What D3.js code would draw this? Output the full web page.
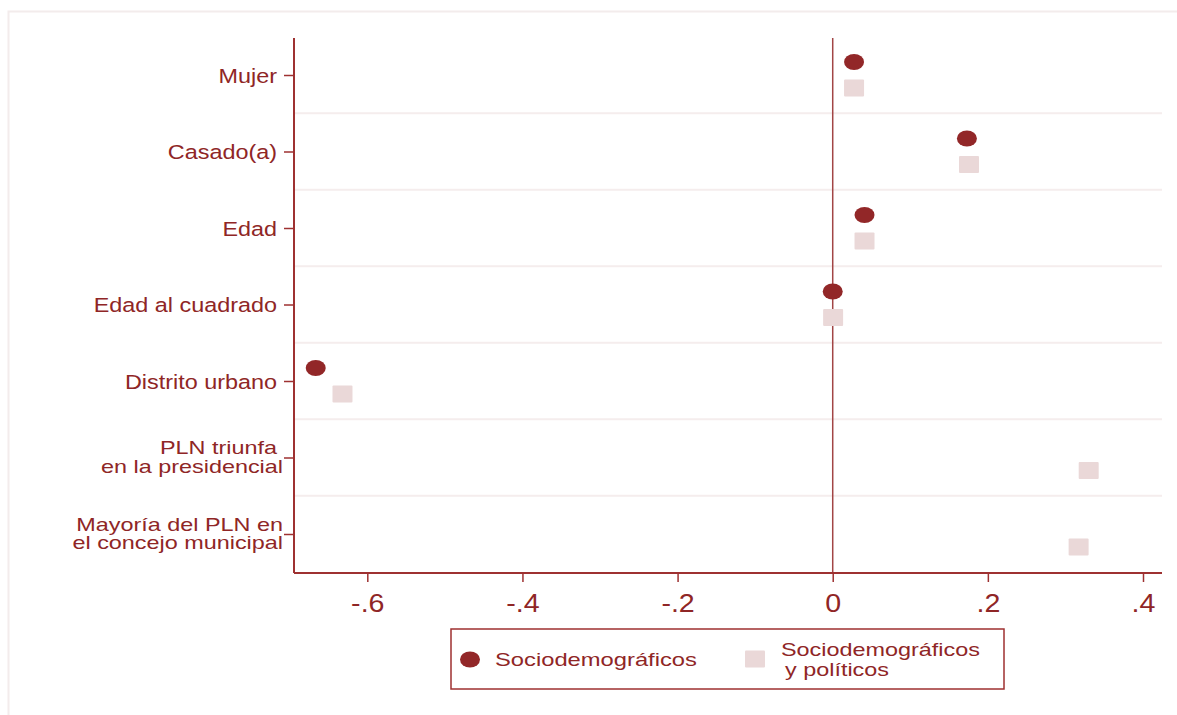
<!DOCTYPE html>
<html>
<head>
<meta charset="utf-8">
<script src="https://cdn.jsdelivr.net/npm/d3@7"></script>
<style>
  html, body { margin: 0; padding: 0; background: #ffffff; }
  svg { display: block; }
  text { font-family: "Liberation Sans", Arial, Helvetica, sans-serif; fill: #8f2626; }
</style>
</head>
<body>
<svg id="chart" width="1177" height="715"></svg>
<script>
// Coefficients by variable for the two model specifications
const categories = [
  "Mujer",
  "Casado(a)",
  "Edad",
  "Edad al cuadrado",
  "Distrito urbano",
  "PLN triunfa",
  "Mayoría del PLN en"
];
// Category labels split into lines
const categoryLines = [
  ["Mujer"],
  ["Casado(a)"],
  ["Edad"],
  ["Edad al cuadrado"],
  ["Distrito urbano"],
  ["PLN triunfa", "en la presidencial"],
  ["Mayoría del PLN en", "el concejo municipal"]
];
// Model 1: sociodemographic controls only
const socioValues = [0.0275, 0.173, 0.041, 0.0, -0.6665, null, null];
// Model 2: sociodemographic plus political controls
const socioPolValues = [0.0275, 0.1757, 0.041, 0.0005, -0.632, 0.330, 0.317];
const xTicks = [-0.6, -0.4, -0.2, 0, 0.2, 0.4];
const xTickLabels = ["-.6", "-.4", "-.2", "0", ".2", ".4"];
const legendLabels = [["Sociodemográficos"], ["Sociodemográficos", "y políticos"]];

const svg = d3.select("#chart");
const axisColor = "#9e3131";
const circleFill = "#922728";
const squareFill = "#ead8d8";
const gridColor = "#f5eded";

const plot = { left: 294, right: 1162, top: 38, bottom: 573 };

// Horizontally widened text, anchored at (x, y)
function wideText(parent, x, y, str, size, sx, anchor) {
  return parent.append("g")
    .attr("transform", `translate(${x},${y}) scale(${sx},1)`)
    .append("text")
    .attr("text-anchor", anchor)
    .style("font-size", size + "px")
    .text(str);
}

// Outer frame
svg.append("rect")
  .attr("x", 8.5).attr("y", 11.5)
  .attr("width", 1175).attr("height", 720)
  .attr("fill", "none").attr("stroke", "#f3ecec").attr("stroke-width", 2);

const x = d3.scaleLinear().domain([-0.6945, 0.4245]).range([plot.left, plot.right]);
const y = d3.scalePoint().domain(categories).range([75, 534]).padding(0);
const step = y.step();

// Horizontal separators between categories
svg.append("g").selectAll("line")
  .data(categories.slice(1))
  .join("line")
  .attr("x1", plot.left).attr("x2", plot.right)
  .attr("y1", d => y(d) - step / 2).attr("y2", d => y(d) - step / 2)
  .attr("stroke", gridColor).attr("stroke-width", 2);

// Reference line at zero
svg.append("line")
  .attr("x1", x(0)).attr("x2", x(0))
  .attr("y1", plot.top).attr("y2", plot.bottom)
  .attr("stroke", "#a24545").attr("stroke-width", 1.5);

// X axis
const xAxis = d3.axisBottom(x)
  .tickValues(xTicks)
  .tickSize(9)
  .tickSizeOuter(0)
  .tickFormat("");
const gx = svg.append("g")
  .attr("transform", `translate(0,${plot.bottom})`)
  .call(xAxis);
gx.select(".domain").attr("stroke", axisColor).attr("stroke-width", 2)
  .attr("d", `M${plot.left},0H${plot.right}`);
gx.selectAll(".tick line").attr("stroke", axisColor).attr("stroke-width", 1.5);
gx.selectAll(".tick").each(function (d, i) {
  wideText(d3.select(this), 0, 38.5, xTickLabels[i], 26, 1.1, "middle");
});

// Y axis with category ticks
const yAxis = d3.axisLeft(y).tickSize(10).tickSizeOuter(0).tickFormat("");
const gy = svg.append("g")
  .attr("transform", `translate(${plot.left},0)`)
  .call(yAxis);
gy.select(".domain").attr("stroke", axisColor).attr("stroke-width", 2)
  .attr("d", `M0,${plot.top}V${plot.bottom}`);
gy.selectAll(".tick line").attr("stroke", axisColor).attr("stroke-width", 1.5);

// Category labels
const labels = svg.append("g");
categories.forEach((c, i) => {
  const lines = categoryLines[i];
  const cy = y(c);
  if (lines.length === 1) {
    wideText(labels, 277, cy + 7.5, lines[0], 19.5, 1.2, "end");
  } else {
    wideText(labels, lines[0].length < 12 ? 277 : 283, cy - 3.3, lines[0], 18, 1.3, "end");
    wideText(labels, 283, cy + 15.4, lines[1], 18, 1.3, "end");
  }
});

// Markers: ellipses for model 1, squares for model 2
const offset = 13;
const pts1 = categories.map((c, i) => ({ c, v: socioValues[i] })).filter(d => d.v !== null);
const pts2 = categories.map((c, i) => ({ c, v: socioPolValues[i] })).filter(d => d.v !== null);

svg.append("g").selectAll("ellipse")
  .data(pts1)
  .join("ellipse")
  .attr("cx", d => x(d.v))
  .attr("cy", d => y(d.c) - offset)
  .attr("rx", 10).attr("ry", 8)
  .attr("fill", circleFill);

svg.append("g").selectAll("rect")
  .data(pts2)
  .join("rect")
  .attr("x", d => x(d.v) - 10)
  .attr("y", d => y(d.c) + offset - 8.5)
  .attr("width", 20).attr("height", 17)
  .attr("rx", 1)
  .attr("fill", squareFill);

// Legend
const lg = svg.append("g");
lg.append("rect")
  .attr("x", 451).attr("y", 629)
  .attr("width", 553).attr("height", 60)
  .attr("fill", "#ffffff").attr("stroke", axisColor).attr("stroke-width", 1.5);
lg.append("ellipse")
  .attr("cx", 470).attr("cy", 659.5).attr("rx", 10).attr("ry", 8)
  .attr("fill", circleFill);
wideText(lg, 495, 666, legendLabels[0][0], 19, 1.25, "start");
lg.append("rect")
  .attr("x", 745).attr("y", 650.5).attr("width", 20).attr("height", 17).attr("rx", 1)
  .attr("fill", squareFill);
wideText(lg, 781, 656, legendLabels[1][0], 18, 1.3, "start");
wideText(lg, 785, 675.5, legendLabels[1][1], 18, 1.3, "start");
</script>
</body>
</html>
